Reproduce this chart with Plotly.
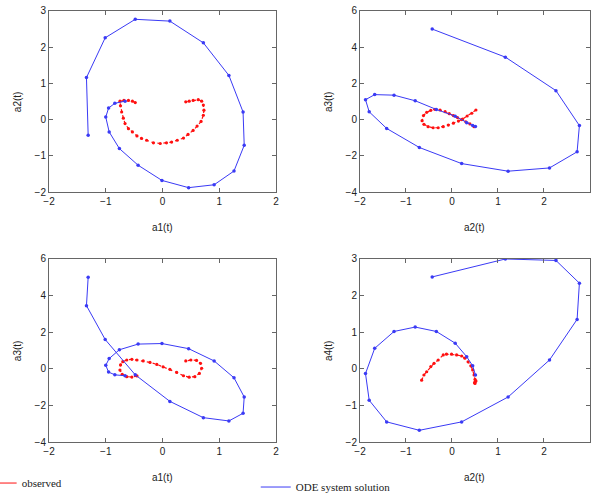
import plotly.graph_objects as go

# ODE system solution (shared time series, 20 samples)
a1 = [-1.31, -1.34, -1.01, -0.48, 0.13, 0.72, 1.17, 1.42, 1.44, 1.26, 0.91, 0.46, -0.01, -0.43, -0.76, -0.94, -1.00, -0.95, -0.84, -0.66]
a2 = [-0.43, 1.16, 2.26, 2.77, 2.72, 2.12, 1.22, 0.21, -0.71, -1.42, -1.80, -1.88, -1.68, -1.26, -0.80, -0.34, 0.07, 0.32, 0.45, 0.51]
a3 = [5.00, 3.45, 1.60, -0.33, -1.78, -2.67, -2.85, -2.43, -1.54, -0.49, 0.43, 1.10, 1.38, 1.35, 1.04, 0.56, 0.19, -0.18, -0.33, -0.38]
a4 = [2.51, 3.00, 2.96, 2.34, 1.35, 0.24, -0.77, -1.45, -1.68, -1.45, -0.86, -0.13, 0.56, 1.02, 1.14, 1.02, 0.70, 0.33, 0.08, -0.17]

# Observed data, per panel
obs1_x = [-0.48, -0.53, -0.60, -0.68, -0.75, -0.74, -0.72, -0.69, -0.66, -0.60, -0.53, -0.45, -0.37, -0.28, -0.16, -0.04, 0.07, 0.16, 0.26, 0.37, 0.45, 0.54, 0.61, 0.68, 0.72, 0.73, 0.72, 0.69, 0.63, 0.54, 0.47, 0.41]
obs1_y = [0.47, 0.51, 0.53, 0.53, 0.51, 0.38, 0.21, 0.04, -0.11, -0.25, -0.34, -0.45, -0.52, -0.57, -0.64, -0.66, -0.64, -0.62, -0.57, -0.51, -0.41, -0.30, -0.18, -0.05, 0.12, 0.26, 0.40, 0.51, 0.55, 0.53, 0.51, 0.49]

obs2_x = [0.52, 0.43, 0.33, 0.23, 0.14, 0.03, -0.08, -0.19, -0.30, -0.41, -0.52, -0.61, -0.65, -0.62, -0.55, -0.46, -0.37, -0.26, -0.15, -0.06, 0.03, 0.12, 0.21, 0.30, 0.39, 0.48]
obs2_y = [0.53, 0.35, 0.20, 0.03, -0.08, -0.20, -0.30, -0.39, -0.45, -0.45, -0.39, -0.26, -0.06, 0.22, 0.40, 0.51, 0.57, 0.53, 0.44, 0.33, 0.22, 0.11, 0.00, -0.12, -0.24, -0.39]

obs3_x = [-0.45, -0.54, -0.63, -0.71, -0.75, -0.74, -0.70, -0.63, -0.54, -0.45, -0.34, -0.22, -0.10, 0.01, 0.13, 0.25, 0.37, 0.47, 0.57, 0.65, 0.69, 0.67, 0.60, 0.50, 0.41]
obs3_y = [-0.39, -0.45, -0.43, -0.30, -0.07, 0.21, 0.39, 0.48, 0.52, 0.48, 0.43, 0.35, 0.24, 0.11, -0.03, -0.20, -0.38, -0.46, -0.43, -0.25, 0.03, 0.30, 0.46, 0.48, 0.43]

obs4_x = [-0.66, -0.61, -0.55, -0.46, -0.39, -0.30, -0.19, -0.12, -0.01, 0.10, 0.21, 0.28, 0.35, 0.41, 0.45, 0.48, 0.50, 0.51, 0.49, 0.52, 0.50]
obs4_y = [-0.31, -0.17, -0.08, 0.06, 0.15, 0.24, 0.38, 0.40, 0.40, 0.38, 0.35, 0.29, 0.19, 0.08, -0.03, -0.17, -0.29, -0.35, -0.38, -0.33, -0.40]

panels = [
    dict(obs=(obs1_x, obs1_y), ode=(a1, a2), xr=[-2, 2], yr=[-2, 3], xd=[0.0828, 0.4662], yd=[0.6152, 0.978], ydt=1),
    dict(obs=(obs2_x, obs2_y), ode=(a2, a3), xr=[-2, 3], yr=[-4, 6], xd=[0.6081, 0.9966], yd=[0.6152, 0.978], ydt=2),
    dict(obs=(obs3_x, obs3_y), ode=(a1, a3), xr=[-2, 2], yr=[-4, 6], xd=[0.0828, 0.4662], yd=[0.1142, 0.481], ydt=2),
    dict(obs=(obs4_x, obs4_y), ode=(a2, a4), xr=[-2, 3], yr=[-2, 3], xd=[0.6081, 0.9966], yd=[0.1142, 0.481], ydt=1),
]
xlabels = ["a1(t)", "a2(t)", "a1(t)", "a2(t)"]
ylabels = ["a2(t)", "a3(t)", "a3(t)", "a4(t)"]

RED = "#ff1010"
BLUE = "#3a3af5"

legfont = dict(family="Liberation Serif, Times New Roman, serif", size=11, color="#222")
fig = go.Figure()
layout = dict(
    width=592, height=499,
    margin=dict(l=0, r=0, t=0, b=0, autoexpand=False),
    paper_bgcolor="white", plot_bgcolor="white",
    font=dict(family="Liberation Sans, Arial, sans-serif", size=10, color="#222"),
    showlegend=True,
    legend=dict(x=-0.031, y=0.032, xanchor="left", yanchor="middle", font=legfont,
                bgcolor="rgba(0,0,0,0)", itemwidth=30),
    legend2=dict(x=0.432, y=0.024, xanchor="left", yanchor="middle", font=legfont,
                 bgcolor="rgba(0,0,0,0)", itemwidth=30),
)

annotations = []
for i, p in enumerate(panels):
    n = "" if i == 0 else str(i + 1)
    fig.add_trace(go.Scatter(x=p["obs"][0], y=p["obs"][1], mode="lines+markers",
                             xaxis="x" + n, yaxis="y" + n,
                             line=dict(color=RED, width=1.2, dash="dot"),
                             marker=dict(color=RED, size=3.2),
                             name="observed", legendgroup="obs", showlegend=False))
    fig.add_trace(go.Scatter(x=p["ode"][0], y=p["ode"][1], mode="lines+markers",
                             xaxis="x" + n, yaxis="y" + n,
                             line=dict(color=BLUE, width=1),
                             marker=dict(color=BLUE, size=3.5),
                             name="ODE system solution", legendgroup="ode", showlegend=False))
    axcommon = dict(showgrid=False, zeroline=False, showline=True, linecolor="#666", linewidth=1,
                    mirror="ticks", ticks="inside", ticklen=4, tickcolor="#666", automargin=False,
                    tickfont=dict(size=10, color="#222"))
    layout["xaxis" + n] = dict(domain=p["xd"], range=p["xr"], dtick=1, anchor="y" + n, **axcommon)
    layout["yaxis" + n] = dict(domain=p["yd"], range=p["yr"], dtick=p["ydt"], anchor="x" + n, **axcommon)
    xc = (p["xd"][0] + p["xd"][1]) / 2
    annotations.append(dict(text=xlabels[i], xref="paper", yref="paper", x=xc,
                            y=p["yd"][0] - 0.072, showarrow=False, xanchor="center", yanchor="middle",
                            font=dict(size=10)))
    yc = (p["yd"][0] + p["yd"][1]) / 2
    annotations.append(dict(text=ylabels[i], xref="paper", yref="paper", x=p["xd"][0] - 0.053,
                            y=yc, showarrow=False, textangle=-90, xanchor="center", yanchor="middle",
                            font=dict(size=10)))

# legend entries (line-only symbols, as in the reference legend)
fig.add_trace(go.Scatter(x=[None], y=[None], mode="lines", line=dict(color=RED, width=1),
                         name="observed", legendgroup="obs", legend="legend"))
fig.add_trace(go.Scatter(x=[None], y=[None], mode="lines", line=dict(color=BLUE, width=1),
                         name="ODE system solution", legendgroup="ode", legend="legend2"))

layout["annotations"] = annotations
fig.update_layout(**layout)
fig.write_html("out.html", config={"displayModeBar": False},
               post_script="document.body.style.margin='0';document.body.style.overflow='hidden';")
